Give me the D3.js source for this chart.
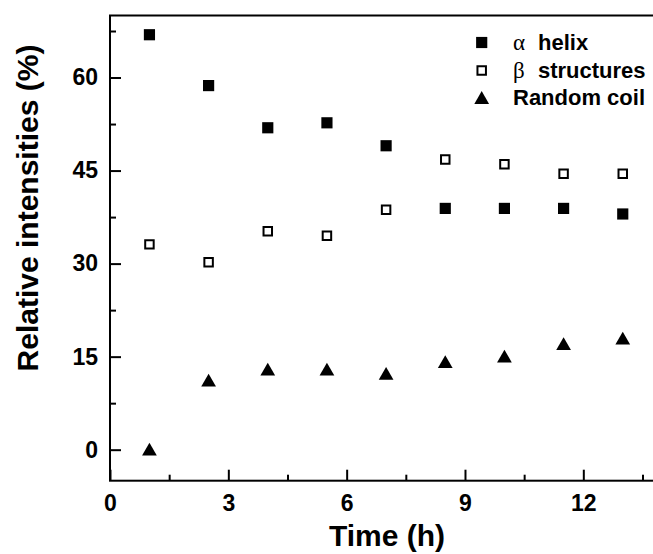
<!DOCTYPE html>
<html>
<head>
<meta charset="utf-8">
<script src="https://cdn.jsdelivr.net/npm/d3@7"></script>
<style>
  body { margin: 0; background: #fff; }
  svg { display: block; }
  text { font-family: "Liberation Sans", Arial, sans-serif; font-weight: bold; fill: #000; }
</style>
</head>
<body>
<svg id="chart" width="653" height="554"></svg>
<script>
// time points (h) and relative intensities (%)
const times = [1, 2.5, 4, 5.5, 7, 8.5, 10, 11.5, 13];
const helix = [66.9, 58.7, 51.9, 52.7, 49.0, 38.9, 38.9, 38.9, 38.0];
const beta = [33.1, 30.2, 35.2, 34.5, 38.7, 46.8, 46.0, 44.5, 44.5];
const coil = [0.1, 11.2, 13.0, 13.0, 12.3, 14.2, 15.1, 17.1, 18.0];

const xMajor = [0, 3, 6, 9, 12];
const xMinor = [1.5, 4.5, 7.5, 10.5, 13.5];
const yMajor = [0, 15, 30, 45, 60];
const yMinor = [7.5, 22.5, 37.5, 52.5, 67.5];

const legendNames = [
  { greek: "\u03b1", label: "helix" },
  { greek: "\u03b2", label: "structures" },
  { greek: "", label: "Random coil" }
];

var svg = d3.select("#chart");

var x = d3.scaleLinear().domain([0, 14]).range([110, 662.2]);
var y = d3.scaleLinear().domain([-5, 70]).range([480.7, 15.5]);

// frame (right side falls outside the picture)
svg.append("rect")
  .attr("x", x(0)).attr("y", y(70))
  .attr("width", x(14) - x(0)).attr("height", y(-5) - y(70))
  .attr("fill", "none").attr("stroke", "#000").attr("stroke-width", 2);

// minor ticks first, then major with labels
svg.append("g")
  .attr("transform", "translate(0," + y(-5) + ")")
  .call(d3.axisBottom(x).tickValues(xMinor).tickSize(-6).tickFormat(""))
  .call(g => g.select(".domain").remove())
  .call(g => g.selectAll("line").attr("stroke-width", 2));

svg.append("g")
  .attr("transform", "translate(" + x(0) + ",0)")
  .call(d3.axisLeft(y).tickValues(yMinor).tickSize(-6).tickFormat(""))
  .call(g => g.select(".domain").remove())
  .call(g => g.selectAll("line").attr("stroke-width", 2));

svg.append("g")
  .attr("transform", "translate(0," + y(-5) + ")")
  .call(d3.axisBottom(x).tickValues(xMajor).tickSize(-11).tickPadding(14).tickFormat(d3.format("d")))
  .call(g => g.select(".domain").remove())
  .call(g => g.selectAll("line").attr("stroke-width", 2))
  .call(g => g.selectAll("text").attr("font-size", 23).attr("font-family", null).attr("fill", "#000"));

svg.append("g")
  .attr("transform", "translate(" + x(0) + ",0)")
  .call(d3.axisLeft(y).tickValues(yMajor).tickSize(-11).tickPadding(12).tickFormat(d3.format("d")))
  .call(g => g.select(".domain").remove())
  .call(g => g.selectAll("line").attr("stroke-width", 2))
  .call(g => g.selectAll("text").attr("font-size", 23).attr("font-family", null).attr("fill", "#000"));

// axis titles
svg.append("text")
  .attr("x", 387).attr("y", 546)
  .attr("text-anchor", "middle")
  .attr("font-size", 30)
  .text("Time (h)");

svg.append("text")
  .attr("transform", "translate(37.5,208) rotate(-90)")
  .attr("text-anchor", "middle")
  .attr("font-size", 30)
  .text("Relative intensities (%)");

// markers
var squareFilled = d3.symbol().type(d3.symbolSquare).size(125);
var squareOpen = d3.symbol().type(d3.symbolSquare).size(72);
var triangle = d3.symbol().type(d3.symbolTriangle).size(94);
var triShift = Math.sqrt(94 / (Math.sqrt(3) * 3)) / 2;

svg.append("g").selectAll("path")
  .data(times.map((t, i) => [t, helix[i]]))
  .enter().append("path")
  .attr("d", squareFilled)
  .attr("transform", d => "translate(" + x(d[0]) + "," + y(d[1]) + ")")
  .attr("fill", "#000");

svg.append("g").selectAll("path")
  .data(times.map((t, i) => [t, beta[i]]))
  .enter().append("path")
  .attr("d", squareOpen)
  .attr("transform", d => "translate(" + x(d[0]) + "," + y(d[1]) + ")")
  .attr("fill", "#fff").attr("stroke", "#000").attr("stroke-width", 2);

svg.append("g").selectAll("path")
  .data(times.map((t, i) => [t, coil[i]]))
  .enter().append("path")
  .attr("d", triangle)
  .attr("transform", d => "translate(" + x(d[0]) + "," + (y(d[1]) + triShift) + ")")
  .attr("fill", "#000");

// legend
var legendY = [42.5, 70.5, 97.5];
var legend = svg.append("g");

legend.append("path").attr("d", squareFilled)
  .attr("transform", "translate(481.7," + legendY[0] + ")").attr("fill", "#000");
legend.append("path").attr("d", squareOpen)
  .attr("transform", "translate(481.7," + legendY[1] + ")")
  .attr("fill", "#fff").attr("stroke", "#000").attr("stroke-width", 2);
legend.append("path").attr("d", triangle)
  .attr("transform", "translate(481.7," + (legendY[2] + triShift) + ")").attr("fill", "#000");

legendNames.forEach((d, i) => {
  var t = legend.append("text")
    .attr("x", 513).attr("y", legendY[i] + 7.5)
    .attr("font-size", 22);
  if (d.greek) {
    t.append("tspan")
      .attr("font-family", "'Liberation Serif', 'Times New Roman', serif")
      .attr("font-weight", "normal")
      .attr("font-size", 23)
      .text(d.greek);
    t.append("tspan").attr("x", 538).text(d.label);
  } else {
    t.text(d.label);
  }
});
</script>
</body>
</html>
